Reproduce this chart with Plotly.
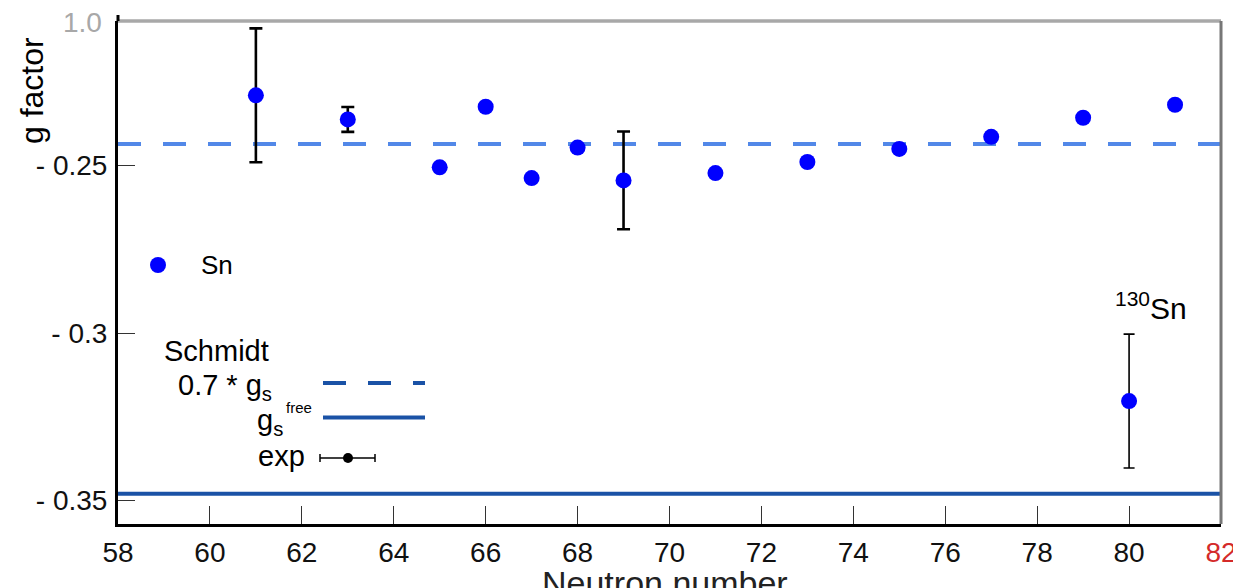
import plotly.graph_objects as go

# ---------------- data ----------------
sn_N = [61, 63, 65, 66, 67, 68, 69, 71, 73, 75, 77, 79, 81]
sn_g = [-0.2290, -0.2362, -0.2505, -0.2324, -0.2537, -0.2446, -0.2544,
        -0.2522, -0.2489, -0.2450, -0.2414, -0.2357, -0.2318]
sn_err = [0.0200, 0.0037, None, None, None, None, 0.0146,
          None, None, None, None, None, None]

sn130_N = [80]
sn130_g = [-0.3203]
sn130_err = [0.0200]

g_schmidt_quenched = -0.2435   # 0.7 * g_s
g_schmidt_free = -0.3480       # g_s free

x_ticks = [58, 60, 62, 64, 66, 68, 70, 72, 74, 76, 78, 80, 82]
y_ticks = [-0.25, -0.30, -0.35]
y_ticktext = ["- 0.25", "- 0.3", "- 0.35"]

x_range = [58, 82]
y_range = [-0.3570, -0.2068]

# ---------------- layout helpers ----------------
W, H = 1233, 588
ML, MR, MT, MB = 118, 12, 21, 64
PW, PH = W - ML - MR, H - MT - MB


def px(x):
    return (x - ML) / PW


def py(y):
    return (H - MB - y) / PH


FONT = "Liberation Sans, Arial, Helvetica, sans-serif"
BLUE = "#0000ff"
LIGHT_BLUE = "#5288e8"
DARK_BLUE = "#1a52a6"

fig = go.Figure()

# Schmidt lines
fig.add_trace(go.Scatter(
    x=x_range, y=[g_schmidt_quenched] * 2, mode="lines",
    line=dict(color=LIGHT_BLUE, width=4, dash="23px,22px"),
    showlegend=False, hoverinfo="skip"))
fig.add_trace(go.Scatter(
    x=x_range, y=[g_schmidt_free] * 2, mode="lines",
    line=dict(color=DARK_BLUE, width=4),
    showlegend=False, hoverinfo="skip"))

# error bars (drawn first, under the markers)
eN = [n for n, e in zip(sn_N, sn_err) if e is not None]
eg = [g for g, e in zip(sn_g, sn_err) if e is not None]
ee = [e for e in sn_err if e is not None]
fig.add_trace(go.Scatter(
    x=eN, y=eg, mode="markers",
    marker=dict(size=1, color="rgba(0,0,0,0)"),
    error_y=dict(type="data", array=ee, visible=True,
                 color="black", thickness=2.6, width=6.5),
    showlegend=False, hoverinfo="skip"))
fig.add_trace(go.Scatter(
    x=sn130_N, y=sn130_g, mode="markers",
    marker=dict(size=1, color="rgba(0,0,0,0)"),
    error_y=dict(type="data", array=sn130_err, visible=True,
                 color="black", thickness=1.6, width=5.5),
    showlegend=False, hoverinfo="skip"))

# data points
fig.add_trace(go.Scatter(
    x=sn_N, y=sn_g, mode="markers", name="Sn",
    marker=dict(size=16, color=BLUE), showlegend=False))
fig.add_trace(go.Scatter(
    x=sn130_N, y=sn130_g, mode="markers",
    marker=dict(size=16, color=BLUE), showlegend=False))

x_ticktext = [str(v) for v in x_ticks[:-1]] + \
    ['<span style="color:#d42a2a">%d</span>' % x_ticks[-1]]

annotations = [
    dict(text="1.0", x=px(104), y=py(22), xanchor="right", yanchor="middle",
         font=dict(size=28, color="#a8a8a8", family=FONT)),
    dict(text="g factor", x=px(32), y=py(90), textangle=-90,
         xanchor="center", yanchor="middle",
         font=dict(size=32, color="black", family=FONT)),
    dict(text="Neutron number", x=px(665), y=py(583), xanchor="center",
         yanchor="middle", font=dict(size=34, color="#222", family=FONT)),
    dict(text="Sn", x=px(199), y=py(265), xanchor="left",
         yanchor="middle", font=dict(size=26, color="black", family=FONT)),
    dict(text="Schmidt", x=px(162), y=py(351), xanchor="left",
         yanchor="middle", font=dict(size=29, color="black", family=FONT)),
    dict(text="0.7 * g<sub>s</sub>", x=px(176), y=py(387), xanchor="left",
         yanchor="middle", font=dict(size=29, color="black", family=FONT)),
    dict(text="g<sub>s</sub>", x=px(255), y=py(422), xanchor="left",
         yanchor="middle", font=dict(size=29, color="black", family=FONT)),
    dict(text="free", x=px(284), y=py(407), xanchor="left",
         yanchor="middle", font=dict(size=15, color="black", family=FONT)),
    dict(text="exp", x=px(256), y=py(456), xanchor="left",
         yanchor="middle", font=dict(size=29, color="black", family=FONT)),
    dict(text="<sup>130</sup>Sn", x=px(1113), y=py(306), xanchor="left",
         yanchor="middle", font=dict(size=30, color="black", family=FONT)),
]
for a in annotations:
    a.update(xref="paper", yref="paper", showarrow=False)

shapes = [
    # legend: Sn marker
    dict(type="circle", x0=px(150), x1=px(166), y0=py(257), y1=py(273),
         fillcolor=BLUE, line=dict(color=BLUE, width=0)),
    # legend samples
    dict(type="line", x0=px(323), x1=px(425), y0=py(383), y1=py(383),
         line=dict(color=DARK_BLUE, width=4, dash="23px,22px")),
    dict(type="line", x0=px(323), x1=px(425), y0=py(417.5), y1=py(417.5),
         line=dict(color=DARK_BLUE, width=4)),
    dict(type="line", x0=px(320), x1=px(375), y0=py(458), y1=py(458),
         line=dict(color="black", width=1.5)),
    dict(type="line", x0=px(320), x1=px(320), y0=py(454), y1=py(462),
         line=dict(color="black", width=1.5)),
    dict(type="line", x0=px(375), x1=px(375), y0=py(454), y1=py(462),
         line=dict(color="black", width=1.5)),
    dict(type="circle", x0=px(343), x1=px(353), y0=py(453), y1=py(463),
         fillcolor="black", line=dict(color="black", width=0)),
    # frame top / right
    dict(type="line", x0=0, x1=1, y0=1, y1=1,
         line=dict(color="#a8a8a8", width=3.5)),
    dict(type="line", x0=1, x1=1, y0=0, y1=1,
         line=dict(color="#777777", width=3)),
    # left axis overshoot above the frame
    dict(type="line", x0=0, x1=0, y0=1, y1=py(15),
         line=dict(color="black", width=3)),
]
for s in shapes:
    s.update(xref="paper", yref="paper", layer="above")

fig.update_layout(
    width=W, height=H,
    margin=dict(l=ML, r=MR, t=MT, b=MB, autoexpand=False),
    paper_bgcolor="white", plot_bgcolor="white",
    font=dict(family=FONT, color="black"),
    xaxis=dict(range=x_range, tickmode="array", tickvals=x_ticks,
               ticktext=x_ticktext, ticks="inside", ticklen=18,
               tickwidth=1.2, tickcolor="#333", showline=True,
               linecolor="black", linewidth=3, showgrid=False,
               zeroline=False, tickfont=dict(size=28, color="#111"),
               ticklabelstandoff=1, ticklabeloverflow="allow",
               automargin=False),
    yaxis=dict(range=y_range, tickmode="array", tickvals=y_ticks,
               ticktext=y_ticktext, ticks="inside", ticklen=17,
               tickwidth=1.2, tickcolor="#333", showline=True,
               linecolor="black", linewidth=3, showgrid=False,
               zeroline=False, tickfont=dict(size=28, color="#111"),
               ticklabelstandoff=2, automargin=False),
    showlegend=False,
    annotations=annotations,
    shapes=shapes,
)

fig.write_html("out.html")
